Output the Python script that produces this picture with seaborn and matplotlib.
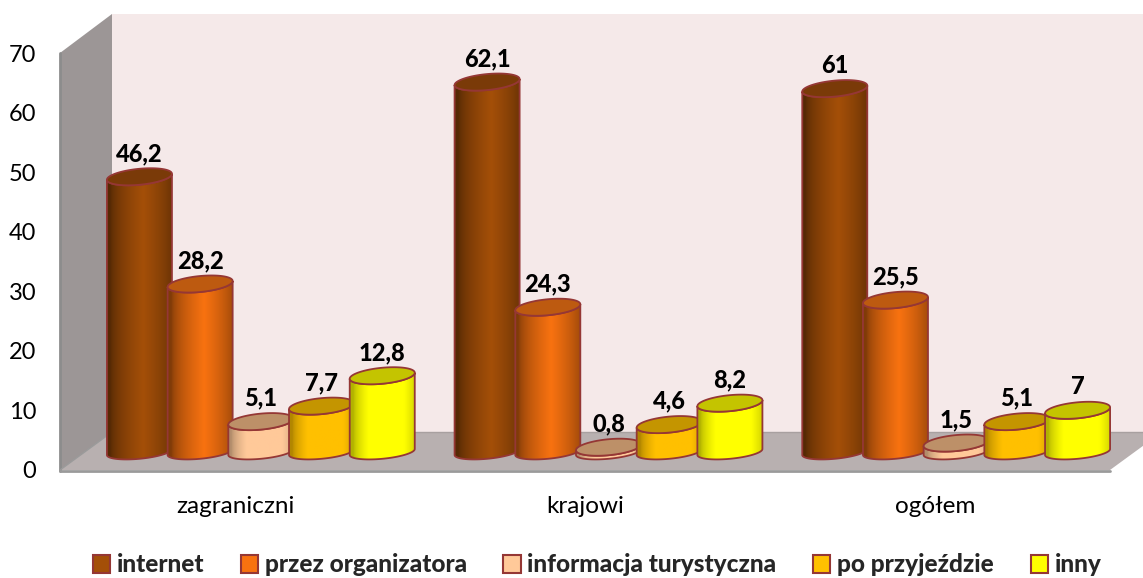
import numpy as np
import pandas as pd
import seaborn as sns
import matplotlib.pyplot as plt
from matplotlib.patches import Polygon

sns.set_theme(style="white")
plt.rcParams['font.family'] = ['Lato', 'DejaVu Sans']

categories = ["zagraniczni", "krajowi", "ogółem"]
sources = ["internet", "przez organizatora", "informacja turystyczna", "po przyjeździe", "inny"]
internet = [46.2, 62.1, 61]
organizator = [28.2, 24.3, 25.5]
informacja = [5.1, 0.8, 1.5]
po_przyjezdzie = [7.7, 4.6, 5.1]
inny = [12.8, 8.2, 7]
y_ticks = [0, 10, 20, 30, 40, 50, 60, 70]

body_colors = ["#A44F08", "#F87210", "#FFC999", "#FFC000", "#FFFF00"]
cap_colors = ["#7A3A08", "#BD5A10", "#BD9068", "#C49500", "#C4C400"]
edge_color = "#953735"

W, H = 1143, 578


def px_rect(x0, y0, x1, y1):
    return [x0 / W, 1 - y1 / H, (x1 - x0) / W, (y1 - y0) / H]


def draw_cylinder(ax, fig, bar, body, cap, z):
    # bar comes from seaborn, the cylinder is only painted on top of it
    cx = bar.get_x() + bar.get_width() / 2
    h = bar.get_height()
    a = 32.5 / 347.5
    b = 8 / 5.96
    k = 3 / 5.96
    t = np.linspace(0, 2 * np.pi, 120)
    low = np.linspace(np.pi, 2 * np.pi, 60)

    front = np.linspace(2 * np.pi, np.pi, 60)
    side = np.r_[np.c_[cx + a * np.cos(low), b * 0.85 * np.sin(low) + k * np.cos(low)],
                 np.c_[cx + a * np.cos(front), h + b * np.sin(front) + k * np.cos(front)]]
    body_patch = Polygon(side, closed=True, fc="none", ec=edge_color, lw=1.3, zorder=z + 0.2, clip_on=False)
    ax.add_patch(body_patch)

    s = np.linspace(0, 1, 128)
    shade = 0.52 + 0.48 * np.clip(1 - np.abs(s - 0.55) / 0.5, 0, 1) ** 0.6
    rgb = np.array(plt.matplotlib.colors.to_rgb(body))
    if body in ("#FFC999", "#FFC000", "#FFFF00"):
        shade = 0.7 + 0.3 * np.clip((shade - 0.52) / 0.3, 0, 1)
    grad = (shade[:, None] * rgb)[None, :, :]
    im = ax.imshow(grad, extent=(cx - a, cx + a, -3, h + 3), aspect="auto", zorder=z, interpolation="bilinear")
    im.set_clip_path(body_patch)
    im.set_clip_box(fig.bbox)

    top = np.c_[cx + a * np.cos(t), h + b * np.sin(t) + k * np.cos(t)]
    ax.add_patch(Polygon(top, closed=True, fc=cap, ec=edge_color, lw=1.3, zorder=z + 0.4, clip_on=False))


def plot_chart():
    fig = plt.figure(figsize=(W / 100, H / 100), dpi=100)

    # box of the 3d chart, in pixels
    bg = fig.add_axes([0, 0, 1, 1], zorder=0)
    bg.set_xlim(0, W)
    bg.set_ylim(H, 0)
    bg.set_axis_off()
    bg.add_patch(Polygon([(112, 14), (W, 14), (W, 432), (112, 432)], fc="#F5E9E9", ec="none"))
    bg.add_patch(Polygon([(60, 470), (112, 432), (1162, 432), (1110, 470)], fc="#B8B0B0", ec="none"))
    bg.add_patch(Polygon([(60, 53), (112, 14), (112, 432), (60, 470)], fc="#9C9696", ec="none"))
    bg.plot([60, 60], [53, 471], color="#8C8C8C", lw=2)
    bg.plot([60, 1110], [471, 471], color="#9A9A9A", lw=2)
    bg.plot([60, 112], [470, 432], color="#9A9A9A", lw=1)
    bg.plot([112, W], [432, 432], color="#A8A0A0", lw=1)

    # axis labels sit on the front edge of the box
    frame = fig.add_axes(px_rect(60, 53, 1110, 470), zorder=1)
    frame.patch.set_visible(False)
    frame.set_xlim(-0.5, 2.5)
    frame.set_ylim(0, 70)
    frame.set_xticks(range(3), categories)
    frame.set_yticks(y_ticks)
    frame.tick_params(axis="both", length=0, labelcolor="black")
    frame.tick_params(axis="x", pad=18.5, labelsize=17.5)
    frame.tick_params(axis="y", pad=17, labelsize=17)
    sns.despine(ax=frame, left=True, bottom=True)

    # bars sit in the middle of the box depth
    ax = fig.add_axes(px_rect(87, 35, 1130, 452), zorder=2)
    ax.patch.set_visible(False)
    df = pd.DataFrame({
        "kategoria": categories * 5,
        "zrodlo": np.repeat(sources, 3),
        "wartosc": internet + organizator + informacja + po_przyjezdzie + inny,
    })
    sns.barplot(data=df, x="kategoria", y="wartosc", hue="zrodlo", palette=body_colors, saturation=1,
                width=0.873, gap=0, edgecolor=edge_color, linewidth=1.5, ax=ax)
    ax.set_xlim(-0.5, 2.5)
    ax.set_ylim(0, 70)

    handles, labels = ax.get_legend_handles_labels()
    ax.legend(handles, labels, loc="center", bbox_to_anchor=(597 / W, 1 - 565 / H), bbox_transform=fig.transFigure,
              ncol=5, frameon=False, handlelength=0.7, handleheight=0.7, handletextpad=0.28, columnspacing=1.5,
              prop=dict(family="Lato", weight=900, size=17.6))

    for i, container in enumerate(ax.containers):
        for j, bar in enumerate(container):
            draw_cylinder(ax, fig, bar, body_colors[i], cap_colors[i], 3 + i + j * 5)
            bar.set_visible(False)
        texts = ax.bar_label(container, labels=[f"{v:g}".replace(".", ",") for v in container.datavalues],
                             padding=8.5, fontsize=17, fontweight=900, color="black")
        for txt in texts:
            txt.set_zorder(40)

    ax.set_xlim(-0.5, 2.5)
    ax.set_ylim(0, 70)
    ax.set_axis_off()

    fig.savefig("out.png", dpi=100)


if __name__ == "__main__":
    plot_chart()
